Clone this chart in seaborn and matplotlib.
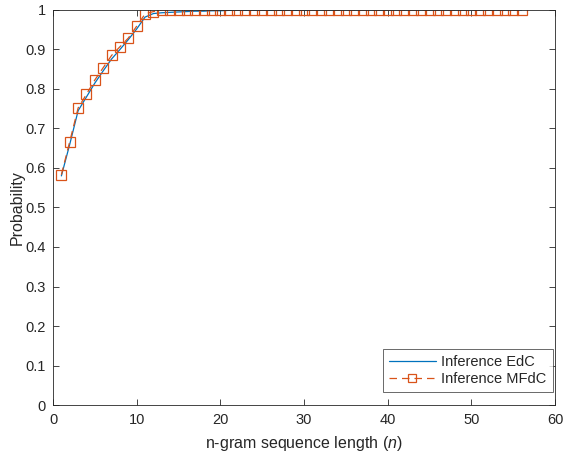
import numpy as np
import pandas as pd
import seaborn as sns
import matplotlib.pyplot as plt

sns.set_style('ticks')
plt.rcParams['font.family'] = ['Liberation Sans', 'DejaVu Sans']
plt.rcParams['mathtext.fontset'] = 'custom'
plt.rcParams['mathtext.it'] = 'Liberation Sans:italic'

n = list(range(1, 57))
edc_head = [0.580, 0.660, 0.745, 0.780, 0.815, 0.846, 0.876, 0.900, 0.925, 0.952,
            0.982, 0.991, 0.993, 0.994, 0.995, 0.996, 0.997, 0.997, 0.998, 0.998]
edc = edc_head + [0.999] * 10 + [1.0] * (56 - 30)
mfdc_head = [0.583, 0.667, 0.752, 0.787, 0.823, 0.854, 0.885, 0.907, 0.929, 0.959,
             0.990, 0.996]
mfdc = mfdc_head + [1.0] * (56 - len(mfdc_head))

df = pd.DataFrame({'n': n, 'Inference EdC': edc, 'Inference MFdC': mfdc})

fig = plt.figure(figsize=(5.67, 4.58), dpi=100)
ax = fig.add_axes([0.0935, 0.1157, 0.8855, 0.8625])

sns.lineplot(data=df, x='n', y='Inference EdC', ax=ax, color='#0072BD', lw=0.9,
             label='Inference EdC')
sns.lineplot(data=df, x='n', y='Inference MFdC', ax=ax, color='#D95319', lw=0.9,
             linestyle=(0, (6, 4)), marker='s', markersize=6.5, markerfacecolor='none',
             markeredgecolor='#D95319', markeredgewidth=0.9, label='Inference MFdC')

ax.set_xlim(0, 60)
ax.set_ylim(0, 1)
ax.set_xticks(range(0, 61, 10))
ax.set_yticks(np.arange(0, 1.01, 0.1))
ax.set_yticklabels(['0', '0.1', '0.2', '0.3', '0.4', '0.5', '0.6', '0.7', '0.8', '0.9', '1'])
ax.tick_params(direction='in', length=4, width=0.6, labelsize=10.5, top=True, right=True,
               colors='#262626')
ax.tick_params(axis='x', pad=6)
ax.tick_params(axis='y', pad=5)
for s in ax.spines.values():
    s.set_linewidth(0.6)
    s.set_color('#262626')
ax.set_xlabel('n-gram sequence length ($n$)', fontsize=11.5, color='#262626', labelpad=5)
ax.set_ylabel('Probability', fontsize=11.5, color='#262626', labelpad=1)

leg = ax.legend(loc='lower right', fontsize=10.5, frameon=True, fancybox=False,
                edgecolor='#262626', borderpad=0.4, handlelength=3.2, labelspacing=0.2,
                handletextpad=0.4, borderaxespad=0, bbox_to_anchor=(0.995, 0.033),
                markerscale=0.85)
leg.get_frame().set_linewidth(0.6)

fig.savefig('out.png', dpi=100)
